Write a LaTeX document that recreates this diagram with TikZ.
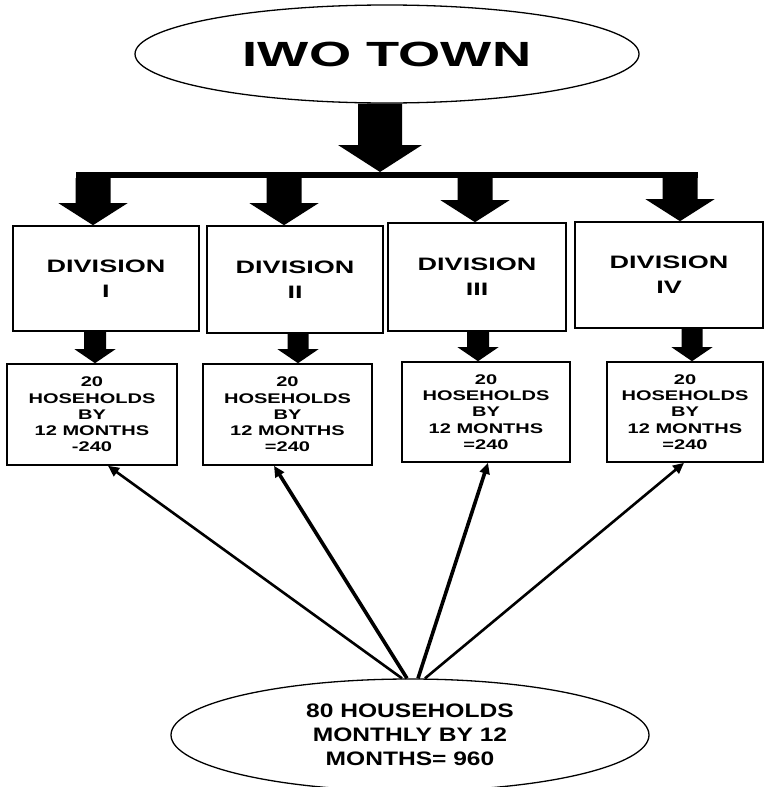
\documentclass[tikz,border=0pt]{standalone}
\usepackage{fontspec}
\usetikzlibrary{shapes.geometric,arrows.meta,calc}
\newfontfamily\fTitle{Liberation Sans}[FakeStretch=1.55]
\newfontfamily\fDiv{Liberation Sans}[FakeStretch=1.5]
\newfontfamily\fHH{Liberation Sans}[FakeStretch=1.43]
\newfontfamily\fBot{Liberation Sans}[FakeStretch=1.26]
% block arrow: from, to, shaft half width, head half width, head length
\newcommand{\blockarrow}[5]{%
  \fill let \p1=(#1), \p2=(#2) in
    (\x2-#3,\y1) -- (\x2+#3,\y1) -- (\x2+#3,\y2+#5) -- (\x2+#4,\y2+#5)
    -- (\x2,\y2) -- (\x2-#4,\y2+#5) -- (\x2-#3,\y2+#5) -- cycle;}
\begin{document}
\begin{tikzpicture}[x=1pt,y=-1pt,
  oval/.style={draw, ellipse, line width=1.3pt, inner sep=0pt},
  divbox/.style={draw, line width=1.6pt, inner sep=0pt, align=center,
    font=\fDiv\bfseries\fontsize{18}{25}\selectfont},
  hhbox/.style={draw, line width=1.6pt, inner sep=0pt, align=center,
    font=\fHH\bfseries\fontsize{14}{16.3}\selectfont},
  conn/.style={line width=2.6pt, -{Triangle[length=11pt,width=10pt]}},
  connthick/.style={conn, line width=3.6pt}]
\useasboundingbox (0,0) rectangle (765,787);

% top ellipse
\node[oval, minimum width=504pt, minimum height=98pt,
  font=\fTitle\bfseries\fontsize{35}{40}\selectfont] (top) at (387,54) {IWO TOWN};

% division boxes
\node[divbox, minimum width=186pt, minimum height=105pt] (d1) at (106,278.5) {DIVISION\\I};
\node[divbox, minimum width=176pt, minimum height=107pt] (d2) at (295,279.5) {DIVISION\\II};
\node[divbox, minimum width=178pt, minimum height=108pt] (d3) at (477,277) {DIVISION\\III};
\node[divbox, minimum width=188pt, minimum height=106pt] (d4) at (669,275) {DIVISION\\IV};

% household boxes
\node[hhbox, minimum width=170pt, minimum height=101pt] (l1) at (92,414.5) {20\\HOSEHOLDS\\BY\\12 MONTHS\\-240};
\node[hhbox, minimum width=169pt, minimum height=101pt] (l2) at (287.5,414.5) {20\\HOSEHOLDS\\BY\\12 MONTHS\\=240};
\node[hhbox, minimum width=168pt, minimum height=100pt] (l3) at (486,412) {20\\HOSEHOLDS\\BY\\12 MONTHS\\=240};
\node[hhbox, minimum width=156pt, minimum height=100pt] (l4) at (685,412) {20\\HOSEHOLDS\\BY\\12 MONTHS\\=240};

% bottom ellipse
\node[oval, minimum width=478pt, minimum height=112pt, align=center,
  font=\fBot\bfseries\fontsize{19.5}{24}\selectfont] (bot) at (410,735)
  {80 HOUSEHOLDS\\MONTHLY BY 12\\MONTHS= 960};

% big arrow and bar
\coordinate (bc) at (380,172);
\blockarrow{top.south -| bc}{bc}{22pt}{42pt}{27pt}
\coordinate (a1) at (93,178);
\coordinate (a2) at (284,178);
\coordinate (a3) at (475,178);
\coordinate (a4) at (680,178);
\fill ($(a1)+(-17.5,0)$) rectangle ($(a4)+(17.5,-6)$);
\blockarrow{a1}{a1 |- d1.north}{17.5pt}{34.5pt}{22pt}
\blockarrow{a2}{a2 |- d2.north}{17.5pt}{34.5pt}{22pt}
\blockarrow{a3}{a3 |- d3.north}{17.5pt}{34.5pt}{22pt}
\blockarrow{a4}{a4 |- d4.north}{17.5pt}{34.5pt}{22pt}

% small arrows
\coordinate (m1) at (95,0);
\coordinate (m2) at (298,0);
\coordinate (m3) at (478,0);
\coordinate (m4) at (692,0);
\blockarrow{d1.south -| m1}{l1.north -| m1}{11pt}{20.5pt}{14pt}
\blockarrow{d2.south -| m2}{l2.north -| m2}{10.5pt}{20.5pt}{14pt}
\blockarrow{d3.south -| m3}{l3.north -| m3}{11pt}{20.5pt}{14pt}
\blockarrow{d4.south -| m4}{l4.north -| m4}{10.5pt}{20.5pt}{14pt}

% connectors from bottom ellipse
\coordinate (s1) at ($(bot.north)+(-8,0)$);
\coordinate (s2) at ($(bot.north)+(-3,0)$);
\coordinate (s3) at ($(bot.north)+(8,0)$);
\coordinate (s4) at ($(bot.north)+(15,0)$);
\coordinate (t1) at ($(l1.south)+(16,0)$);
\coordinate (t2) at ($(l2.south)+(-13.5,0)$);
\coordinate (t3) at ($(l3.south)+(2,0)$);
\coordinate (t4) at ($(l4.south)+(-1,0)$);
\draw[conn] (s1) -- (t1);
\draw[connthick] (s2) -- (t2);
\draw[connthick] (s3) -- (t3);
\draw[conn] (s4) -- (t4);
\end{tikzpicture}
\end{document}
